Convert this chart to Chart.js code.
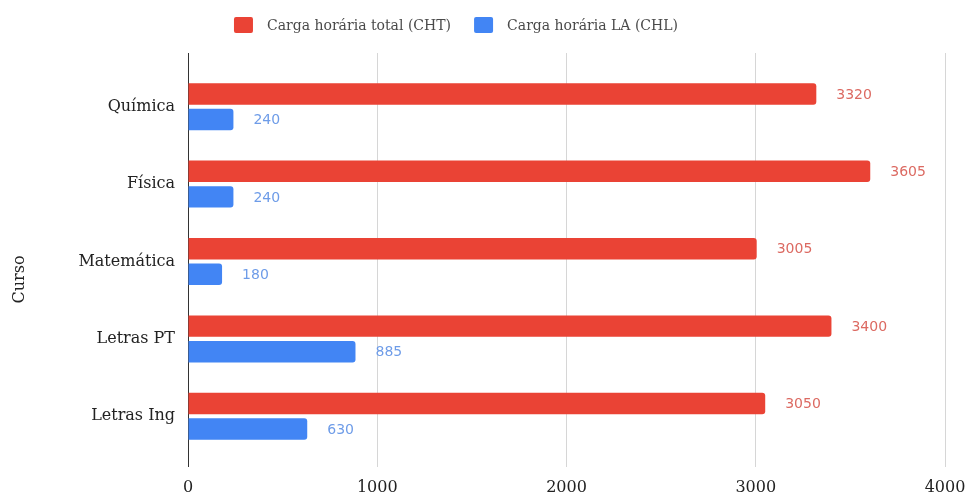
<!DOCTYPE html>
<html>
<head>
<meta charset="utf-8">
<script src="https://cdn.jsdelivr.net/npm/chart.js@4.4.1/dist/chart.umd.min.js"></script>
<style>
  html, body { margin: 0; padding: 0; background: #ffffff; }
  canvas { display: block; }
</style>
</head>
<body>
<canvas id="c" width="970" height="497"></canvas>
<script>
// ---- Data ----
const categories = ['Química', 'Física', 'Matemática', 'Letras PT', 'Letras Ing'];
const chtValues = [3320, 3605, 3005, 3400, 3050];
const chlValues = [240, 240, 180, 885, 630];
const seriesNames = ['Carga horária total (CHT)', 'Carga horária LA (CHL)'];
const xTickValues = [0, 1000, 2000, 3000, 4000];
const yAxisTitle = 'Curso';

// ---- Styles ----
const RED = '#ea4335';
const BLUE = '#4285f4';
const RED_LABEL = '#dc6a62';
const BLUE_LABEL = '#6e9ce8';
const SERIF = '"DejaVu Serif", "Liberation Serif", serif';
const SANS = '"DejaVu Sans", "Open Sans", sans-serif';
const GRID = '#d6d6d6';
const AXIS = '#333333';

const align = p => Math.round(p - 0.5) + 0.5;

const extras = {
  id: 'extras',
  beforeDatasetsDraw(chart) {
    const { ctx, chartArea, scales } = chart;
    const xs = scales.x;
    ctx.save();
    ctx.lineWidth = 1;
    ctx.strokeStyle = GRID;
    xs.ticks.forEach(t => {
      const px = align(xs.getPixelForValue(t.value));
      ctx.beginPath();
      ctx.moveTo(px, chartArea.top - 15);
      ctx.lineTo(px, chartArea.top + 1);
      ctx.stroke();
    });
    const p0 = align(xs.getPixelForValue(0));
    ctx.strokeStyle = AXIS;
    ctx.beginPath();
    ctx.moveTo(p0, chartArea.top - 15);
    ctx.lineTo(p0, chartArea.bottom + 12);
    ctx.stroke();
    ctx.restore();
  },
  afterDatasetsDraw(chart) {
    const { ctx } = chart;
    const colors = [RED_LABEL, BLUE_LABEL];
    ctx.save();
    ctx.font = '14px ' + SANS;
    ctx.textAlign = 'left';
    ctx.textBaseline = 'middle';
    chart.data.datasets.forEach((ds, di) => {
      const meta = chart.getDatasetMeta(di);
      ctx.fillStyle = colors[di];
      meta.data.forEach((el, i) => {
        ctx.fillText(String(ds.data[i]), el.x + 20, el.y + 1);
      });
    });
    ctx.restore();
  },
  afterDraw(chart) {
    const { ctx, chartArea } = chart;
    ctx.save();
    ctx.font = '14px ' + SERIF;
    ctx.textBaseline = 'middle';
    const boxW = 19, boxH = 16, gapBoxText = 14, gapItems = 23;
    const widths = seriesNames.map(n => ctx.measureText(n).width);
    const total = widths.reduce((a, w) => a + boxW + gapBoxText + w, 0) + gapItems * (seriesNames.length - 1);
    let x = 456 - total / 2;
    const cy = 25;
    const cols = [RED, BLUE];
    seriesNames.forEach((n, i) => {
      ctx.fillStyle = cols[i];
      ctx.beginPath();
      ctx.roundRect(x, cy - boxH / 2, boxW, boxH, 2);
      ctx.fill();
      x += boxW + gapBoxText;
      ctx.fillStyle = '#4a4a4a';
      ctx.textAlign = 'left';
      ctx.fillText(n, x, cy + 1);
      x += widths[i] + gapItems;
    });
    ctx.font = '16px ' + SERIF;
    ctx.fillStyle = '#222222';
    ctx.translate(20, (chartArea.top + chartArea.bottom) / 2 + 18);
    ctx.rotate(-Math.PI / 2);
    ctx.textAlign = 'center';
    ctx.fillText(yAxisTitle, 0, 0);
    ctx.restore();
  }
};

new Chart(document.getElementById('c'), {
  type: 'bar',
  data: {
    labels: categories,
    datasets: [
      {
        label: seriesNames[0],
        data: chtValues,
        backgroundColor: RED,
        borderRadius: 3,
        borderSkipped: 'start',
        categoryPercentage: 0.66,
        barPercentage: 0.84
      },
      {
        label: seriesNames[1],
        data: chlValues,
        backgroundColor: BLUE,
        borderRadius: 3,
        borderSkipped: 'start',
        categoryPercentage: 0.66,
        barPercentage: 0.84
      }
    ]
  },
  options: {
    indexAxis: 'y',
    responsive: false,
    animation: false,
    layout: { padding: { top: 68, right: 25, left: 0, bottom: 0 } },
    plugins: {
      legend: { display: false },
      tooltip: { enabled: false },
      title: { display: false }
    },
    scales: {
      x: {
        type: 'linear',
        min: xTickValues[0],
        max: xTickValues[xTickValues.length - 1],
        afterBuildTicks(scale) {
          scale.ticks = xTickValues.map(v => ({ value: v }));
        },
        ticks: {
          font: { family: SERIF, size: 16 },
          color: '#222222',
          padding: 11,
          maxRotation: 0,
          callback: v => String(v)
        },
        grid: {
          color: GRID,
          tickColor: GRID,
          tickLength: 12,
          drawTicks: true
        },
        border: { display: false },
        afterFit(scale) {
          scale.height = 42;
          scale.paddingRight = 0;
          scale.paddingLeft = 0;
        }
      },
      y: {
        type: 'category',
        ticks: {
          font: { family: SERIF, size: 16 },
          color: '#222222',
          padding: 13
        },
        grid: { display: false, drawTicks: false },
        border: { display: true, color: AXIS, width: 1 },
        afterFit(scale) { scale.width = 188; }
      }
    }
  },
  plugins: [extras]
});
</script>
</body>
</html>
